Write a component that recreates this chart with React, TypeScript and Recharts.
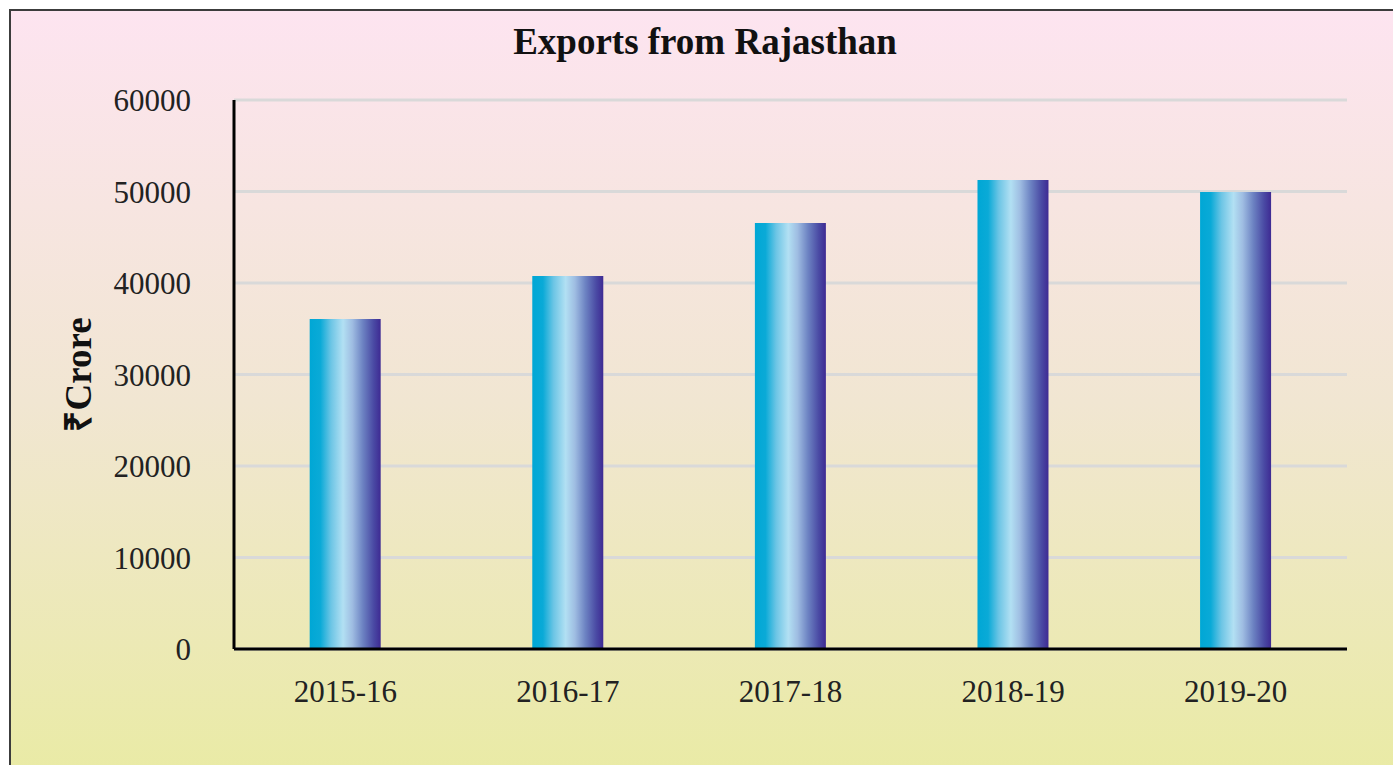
import React from 'react';
import { BarChart, Bar, XAxis, YAxis, CartesianGrid, Label } from 'recharts';

const years = ['2015-16', '2016-17', '2017-18', '2018-19', '2019-20'];
const exportsCrore = [36070, 40770, 46560, 51260, 49950];
const yTicks = [0, 10000, 20000, 30000, 40000, 50000, 60000];

const data = years.map((year, i) => ({ year, value: exportsCrore[i] }));

const FONT = '"Liberation Serif", "Times New Roman", serif';

const App: React.FC = () => {
  return (
    <div style={{ position: 'fixed', left: 0, top: 0, width: 1393, height: 765, overflow: 'hidden', background: '#fff' }}>
      {/* frame with pink-to-yellow wash */}
      <div
        style={{
          position: 'absolute',
          left: 9,
          top: 9,
          width: 1400,
          height: 780,
          border: '2px solid #3c3c3c',
          background: 'linear-gradient(180deg, #fde4f0 0%, #f1e6d2 50%, #e9eba3 100%)',
        }}
      />
      <div
        style={{
          position: 'absolute',
          left: 0,
          top: 20,
          width: 1410,
          textAlign: 'center',
          fontFamily: FONT,
          fontWeight: 'bold',
          fontSize: 37,
          lineHeight: '44px',
          color: '#111',
        }}
      >
        Exports from Rajasthan
      </div>
      <div style={{ position: 'absolute', left: 0, top: 0 }}>
        <BarChart
          width={1393}
          height={765}
          data={data}
          margin={{ top: 100, right: 46, bottom: 56, left: 0 }}
          barCategoryGap="34%"
        >
          <defs>
            <linearGradient id="barFill" x1="0" y1="0" x2="1" y2="0">
              <stop offset="0%" stopColor="#00a7d5" />
              <stop offset="15%" stopColor="#0aaad7" />
              <stop offset="30%" stopColor="#6cc5e5" />
              <stop offset="47%" stopColor="#b2e0f3" />
              <stop offset="60%" stopColor="#9fbde2" />
              <stop offset="75%" stopColor="#6c82c2" />
              <stop offset="90%" stopColor="#4a4aa4" />
              <stop offset="100%" stopColor="#3e2a93" />
            </linearGradient>
          </defs>
          <CartesianGrid vertical={false} stroke="#d9d9d9" strokeWidth={3} />
          <XAxis
            dataKey="year"
            height={60}
            tickLine={false}
            axisLine={{ stroke: '#000', strokeWidth: 3 }}
            tickMargin={25}
            tick={{ fill: '#222', fontFamily: FONT, fontSize: 31 }}
          />
          <YAxis
            width={234}
            domain={[0, 60000]}
            ticks={yTicks}
            tickLine={false}
            axisLine={{ stroke: '#000', strokeWidth: 3 }}
            tickMargin={37}
            tick={{ fill: '#222', fontFamily: FONT, fontSize: 31 }}
          >
            <Label
              content={({ viewBox }: any) => {
                const cx = viewBox.x + 78;
                const cy = viewBox.y + viewBox.height / 2;
                return (
                  <text
                    x={cx}
                    y={cy}
                    transform={`rotate(-90, ${cx}, ${cy})`}
                    textAnchor="middle"
                    dominantBaseline="central"
                    fontFamily={FONT}
                    fontWeight="bold"
                    fontSize={37}
                    fill="#111"
                  >
                    ₹Crore
                  </text>
                );
              }}
            />
          </YAxis>
          <Bar dataKey="value" fill="url(#barFill)" isAnimationActive={false} />
        </BarChart>
      </div>
    </div>
  );
};

export default App;
